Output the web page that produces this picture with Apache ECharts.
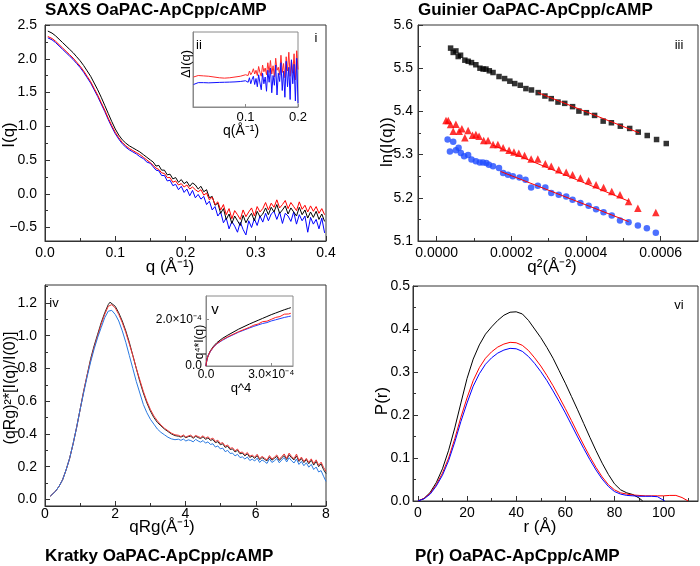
<!DOCTYPE html>
<html><head><meta charset="utf-8">
<script src="https://cdn.jsdelivr.net/npm/echarts@6/dist/echarts.min.js"></script>
<style>html,body{margin:0;padding:0;background:#fff}#c{width:700px;height:566px}</style>
</head><body><div id="c"></div>
<script>
// ---------- Panel i : SAXS ----------
const saxsQ = [0.004,0.01,0.015,0.02,0.025,0.03,0.035,0.04,0.045,0.05,0.055,0.06,0.065,0.07,0.075,0.08,0.085,0.09,0.095,0.1,0.105,0.11,0.115,0.12,0.125,0.13,0.135,0.14,0.145,0.15,
 0.154,0.158,0.162,0.166,0.170,0.174,0.178,0.182,0.186,0.190,0.194,0.198,0.202,0.206,0.210,0.214,0.218,0.222,0.226,0.230,
 0.234,0.238,0.242,0.246,0.250,0.254,0.258,0.262,0.266,0.270,0.274,0.278,0.282,0.286,0.290,0.294,0.298,0.302,0.306,0.310,
 0.314,0.318,0.322,0.326,0.330,0.334,0.338,0.342,0.346,0.350,0.354,0.358,0.362,0.366,0.370,0.374,0.378,0.382,0.386,0.390,0.394,0.398];
const saxsBlack = [2.41,2.38,2.34,2.29,2.24,2.19,2.14,2.09,2.03,1.97,1.90,1.82,1.74,1.64,1.54,1.43,1.31,1.19,1.07,0.96,0.87,0.80,0.75,0.71,0.68,0.65,0.62,0.58,0.54,0.50,
 0.47,0.41,0.42,0.35,0.35,0.28,0.29,0.22,0.24,0.17,0.21,0.15,0.18,0.11,0.16,0.13,0.07,0.11,0.03,0.06,
 -0.06,-0.04,-0.17,-0.14,-0.29,-0.22,-0.38,-0.30,-0.44,-0.33,-0.40,-0.47,-0.32,-0.43,-0.35,-0.29,-0.40,-0.26,-0.34,-0.30,
 -0.21,-0.31,-0.20,-0.27,-0.16,-0.29,-0.24,-0.18,-0.30,-0.21,-0.27,-0.33,-0.20,-0.31,-0.24,-0.36,-0.27,-0.35,-0.26,-0.38,-0.30,-0.41];
const saxsRed = [2.33,2.30,2.26,2.21,2.16,2.11,2.06,2.01,1.95,1.89,1.82,1.74,1.66,1.56,1.46,1.35,1.24,1.12,1.01,0.91,0.83,0.76,0.71,0.67,0.64,0.61,0.58,0.54,0.50,0.46,
 0.42,0.38,0.36,0.31,0.30,0.24,0.24,0.17,0.19,0.13,0.15,0.10,0.13,0.07,0.10,0.06,0.03,0.06,-0.02,0.01,
 -0.09,-0.05,-0.16,-0.12,-0.24,-0.16,-0.31,-0.22,-0.37,-0.25,-0.31,-0.38,-0.24,-0.34,-0.27,-0.21,-0.33,-0.19,-0.27,-0.22,
 -0.13,-0.24,-0.14,-0.20,-0.09,-0.21,-0.16,-0.10,-0.22,-0.13,-0.19,-0.25,-0.12,-0.23,-0.17,-0.27,-0.18,-0.26,-0.19,-0.29,-0.22,-0.31];
const saxsBlue = [2.31,2.28,2.24,2.19,2.14,2.09,2.04,1.99,1.93,1.87,1.80,1.72,1.64,1.54,1.44,1.33,1.22,1.10,0.99,0.89,0.81,0.74,0.69,0.65,0.62,0.59,0.55,0.52,0.47,0.45,
 0.40,0.35,0.34,0.27,0.27,0.19,0.20,0.12,0.14,0.06,0.11,0.02,0.07,-0.03,0.05,-0.06,-0.01,-0.08,-0.04,-0.16,
 -0.11,-0.24,-0.19,-0.33,-0.27,-0.43,-0.36,-0.52,-0.41,-0.48,-0.57,-0.42,-0.53,-0.61,-0.40,-0.50,-0.37,-0.47,-0.33,-0.42,
 -0.29,-0.40,-0.30,-0.26,-0.38,-0.27,-0.44,-0.29,-0.33,-0.41,-0.27,-0.45,-0.31,-0.40,-0.33,-0.57,-0.35,-0.45,-0.38,-0.52,-0.36,-0.58];
const saxsXTicks = [0,0.1,0.2,0.3,0.4], saxsXLabels = ["0.0","0.1","0.2","0.3","0.4"], saxsXMinor = [0.05,0.15,0.25,0.35];
const saxsYTicks = [-0.5,0,0.5,1,1.5,2,2.5], saxsYLabels = ["\u22120.5","0.0","0.5","1.0","1.5","2.0","2.5"], saxsYMinor = [-0.25,0.25,0.75,1.25,1.75,2.25];

// ---------- Inset ii : difference ----------
const diffQ = [0.001,0.01,0.02,0.03,0.04,0.05,0.06,0.07,0.08,0.09,0.1,
 0.1025,0.105,0.1075,0.11,0.1125,0.115,0.1175,0.12,0.1225,0.125,0.1275,0.13,0.1325,0.135,0.1375,0.14,0.1425,0.145,0.1475,0.15,
 0.1525,0.155,0.1575,0.16,0.1625,0.165,0.1675,0.17,0.1725,0.175,0.1775,0.18,0.1825,0.185,0.1875,0.19,0.1925,0.195,0.1975,0.2];
const diffRed = [0.40,0.42,0.415,0.41,0.40,0.39,0.385,0.39,0.40,0.41,0.43,
 0.45,0.42,0.48,0.43,0.46,0.51,0.44,0.49,0.42,0.54,0.46,0.41,0.56,0.47,0.52,0.43,0.59,0.46,0.62,0.44,
 0.55,0.40,0.65,0.49,0.53,0.43,0.69,0.46,0.58,0.39,0.67,0.48,0.73,0.41,0.62,0.45,0.71,0.36,0.75,0.50];
const diffBlue = [0.30,0.325,0.325,0.322,0.325,0.328,0.33,0.332,0.335,0.34,0.35,
 0.36,0.33,0.39,0.31,0.37,0.41,0.30,0.38,0.27,0.43,0.32,0.23,0.45,0.31,0.40,0.21,0.49,0.33,0.52,0.19,
 0.42,0.29,0.56,0.16,0.45,0.34,0.59,0.22,0.48,0.13,0.61,0.27,0.53,0.10,0.63,0.31,0.57,0.08,0.65,0.05];
const diffXTicks = [0.1,0.2], diffXLabels = ["0.1","0.2"];

// ---------- Panel iii : Guinier ----------
const guinBlackQ2 = [0.0000373,0.0000443,0.0000515,0.0000577,0.000064,0.0000755,0.0000844,0.0000933,0.000105,0.000116,0.0001244,0.000132,0.000141,0.000151,0.000167,0.000182,0.000196,0.000209,0.000224,0.000239,0.000254,0.000272,0.00029,0.000307,0.000325,0.000343,0.000364,0.000381,0.000401,0.000423,0.000446,0.000468,0.000492,0.000517,0.00054,0.000564,0.000589,0.000615];
const guinBlackLn = [5.5465,5.5365,5.540,5.527,5.530,5.5186,5.516,5.513,5.508,5.500,5.498,5.498,5.494,5.490,5.4807,5.476,5.470,5.4644,5.4605,5.4528,5.4496,5.4435,5.4356,5.4295,5.4216,5.4186,5.411,5.4007,5.397,5.3907,5.3775,5.3737,5.3658,5.3605,5.352,5.3442,5.3349,5.3256];
const guinRedQ2 = [0.000025,0.000031,0.0000373,0.0000443,0.0000515,0.0000603,0.0000675,0.0000755,0.0000843,0.000096,0.000105,0.0001136,0.000126,0.0001376,0.000151,0.000164,0.000178,0.000194,0.000207,0.00022,0.0002355,0.000253,0.000271,0.000291,0.000307,0.000327,0.000347,0.000364,0.000385,0.000407,0.000427,0.000447,0.000469,0.000491,0.000514,0.000539,0.000587];
const guinRedLn = [5.379,5.379,5.3698,5.354,5.370,5.354,5.3598,5.3388,5.3558,5.345,5.3465,5.3426,5.3326,5.3326,5.3233,5.3233,5.3156,5.310,5.3063,5.3030,5.2977,5.290,5.290,5.279,5.2728,5.265,5.2589,5.2535,5.2458,5.2395,5.2302,5.224,5.2147,5.207,5.1914,5.176,5.1658];
const guinBlueQ2 = [0.0000293,0.0000355,0.0000443,0.0000515,0.0000587,0.0000648,0.0000736,0.0000843,0.0000933,0.000105,0.0001155,0.000124,0.000133,0.00014,0.000151,0.000167,0.000178,0.000191,0.000204,0.000222,0.000238,0.000253,0.000271,0.000291,0.000307,0.000327,0.000347,0.000364,0.000385,0.000407,0.000427,0.000447,0.000469,0.000491,0.000514,0.000539,0.000563,0.000587];
const guinBlueLn = [5.335,5.307,5.3295,5.310,5.3156,5.3039,5.296,5.2993,5.2884,5.2844,5.282,5.282,5.2807,5.2767,5.2728,5.269,5.2574,5.2535,5.2496,5.2472,5.2419,5.224,5.2279,5.224,5.211,5.207,5.2031,5.1953,5.1877,5.1814,5.1737,5.1667,5.1588,5.1472,5.1435,5.1356,5.1295,5.1193];
const fitBlackQ2 = [0.000271,0.000542], fitBlackLn = [5.4435,5.3505];
const fitRedQ2 = [0.00015,0.000515], fitRedLn = [5.322,5.192];
const fitBlueQ2 = [0.000171,0.000514], fitBlueLn = [5.261,5.145];
const guinXTicks = [0,0.0002,0.0004,0.0006], guinXLabels = ["0.0000","0.0002","0.0004","0.0006"], guinXMinor = [0.0001,0.0003,0.0005];
const guinYTicks = [5.1,5.2,5.3,5.4,5.5,5.6], guinYLabels = ["5.1","5.2","5.3","5.4","5.5","5.6"], guinYMinor = [5.15,5.25,5.35,5.45,5.55];

// ---------- Panel iv : Kratky ----------
const kratX = [0.15,0.2,0.3,0.4,0.5,0.6,0.7,0.8,0.9,1.0,1.1,1.2,1.3,1.4,1.5,1.6,1.7,1.8,1.85,1.9,2.0,2.1,2.2,2.3,2.4,2.5,2.6,2.7,2.8,2.9,3.0,3.1,3.2,3.3,3.4,3.5,3.6,3.7,
 3.80,3.87,3.94,4.01,4.08,4.15,4.22,4.29,4.36,4.43,4.50,4.57,4.64,4.71,4.78,4.85,4.92,4.99,5.06,5.13,
 5.20,5.27,5.34,5.41,5.48,5.55,5.62,5.69,5.76,5.83,5.90,5.97,6.04,6.11,6.18,6.25,6.32,6.39,6.46,6.53,
 6.60,6.67,6.74,6.81,6.88,6.95,7.02,7.09,7.16,7.23,7.30,7.37,7.44,7.51,7.58,7.65,7.72,7.79,7.86,7.93,8.00];
const kratBlack = [0.02,0.03,0.05,0.08,0.12,0.18,0.25,0.34,0.44,0.55,0.66,0.76,0.86,0.94,1.01,1.08,1.14,1.19,1.205,1.20,1.18,1.14,1.09,1.03,0.96,0.88,0.80,0.72,0.65,0.59,0.54,0.50,0.47,0.45,0.43,0.415,0.40,0.39,
 0.386,0.381,0.388,0.377,0.384,0.386,0.374,0.386,0.378,0.372,0.383,0.367,0.376,0.361,0.366,0.347,0.353,0.334,0.34,0.318,
 0.325,0.305,0.309,0.29,0.3,0.279,0.283,0.266,0.279,0.257,0.264,0.251,0.268,0.243,0.256,0.245,0.236,0.26,0.24,0.251,
 0.263,0.238,0.255,0.268,0.244,0.273,0.254,0.242,0.266,0.232,0.25,0.225,0.244,0.218,0.24,0.21,0.233,0.2,0.218,0.182,0.158];
const kratRed = [0.02,0.03,0.05,0.08,0.12,0.18,0.25,0.34,0.44,0.55,0.66,0.76,0.85,0.93,1.00,1.07,1.13,1.18,1.19,1.19,1.17,1.13,1.08,1.02,0.95,0.88,0.80,0.73,0.66,0.60,0.55,0.51,0.48,0.455,0.435,0.42,0.405,0.395,
 0.392,0.384,0.394,0.381,0.388,0.393,0.379,0.391,0.384,0.378,0.389,0.374,0.383,0.368,0.375,0.354,0.362,0.342,0.347,0.325,
 0.333,0.312,0.316,0.297,0.308,0.286,0.29,0.273,0.287,0.264,0.271,0.258,0.276,0.249,0.263,0.252,0.241,0.268,0.247,0.258,
 0.272,0.245,0.262,0.278,0.251,0.283,0.262,0.249,0.277,0.238,0.259,0.232,0.251,0.226,0.248,0.219,0.242,0.209,0.228,0.196,0.172];
const kratBlue = [0.02,0.03,0.05,0.08,0.12,0.18,0.25,0.34,0.44,0.55,0.65,0.75,0.84,0.92,0.99,1.05,1.11,1.15,1.16,1.155,1.13,1.09,1.03,0.96,0.88,0.80,0.72,0.65,0.58,0.53,0.49,0.46,0.43,0.41,0.395,0.38,0.37,0.365,
 0.368,0.361,0.369,0.357,0.364,0.36,0.352,0.367,0.357,0.35,0.36,0.344,0.352,0.336,0.34,0.32,0.327,0.309,0.314,0.292,
 0.3,0.281,0.283,0.266,0.276,0.256,0.26,0.247,0.259,0.238,0.246,0.235,0.252,0.226,0.241,0.232,0.22,0.248,0.226,0.236,
 0.25,0.224,0.241,0.256,0.229,0.255,0.236,0.223,0.247,0.214,0.232,0.206,0.224,0.197,0.214,0.183,0.198,0.168,0.176,0.142,0.11];
const kratXTicks = [0,2,4,6,8], kratXLabels = ["0","2","4","6","8"], kratXMinor = [1,3,5,7];
const kratYTicks = [0,0.2,0.4,0.6,0.8,1.0,1.2], kratYLabels = ["0.0","0.2","0.4","0.6","0.8","1.0","1.2"], kratYMinor = [0.1,0.3,0.5,0.7,0.9,1.1,1.3];

// ---------- Inset v : Porod ----------
const porodX = [0,0.000002,0.000005,0.00001,0.00002,0.000035,0.00005,0.000075,0.0001,0.00015,0.0002,0.00022,0.00024,0.00026,0.00028,0.0003,0.00032,0.00034,0.00036,0.00038,0.00039];
const porodBlack = [0,0.000015,0.00003,0.000045,0.000065,0.000085,0.0001,0.000118,0.000132,0.000158,0.00018,0.000188,0.000196,0.000204,0.000212,0.00022,0.000227,0.000234,0.000241,0.000247,0.00025];
const porodRed = [0,0.000015,0.00003,0.000044,0.000063,0.000082,0.000096,0.000112,0.000125,0.000147,0.000166,0.000175,0.00018,0.00019,0.000192,0.0002,0.000208,0.000212,0.000222,0.000223,0.000226];
const porodBlue = [0,0.000015,0.00003,0.000044,0.000062,0.000081,0.000095,0.00011,0.000123,0.000145,0.000163,0.00017,0.000176,0.000182,0.000186,0.000193,0.000198,0.000203,0.000208,0.000212,0.000214];
const porodXTicks = [0,0.0003], porodXLabels = ["0.0","3.0\u00d710\u207b\u2074"];
const porodYTicks = [0,0.0002], porodYLabels = ["0.0","2.0\u00d710\u207b\u2074"];

// ---------- Panel vi : P(r) ----------
const prBlackR = [0,2.5,5,7.5,10,12.5,15,17.5,20,22.5,25,27.5,30,32.5,35,37.5,40,42.5,45,47.5,50,52.5,55,57.5,60,62.5,65,67.5,70,72.5,75,77.5,80,82.5,85,87.5,90,91.5];
const prBlack = [0,0.006,0.02,0.043,0.075,0.118,0.17,0.228,0.285,0.33,0.363,0.388,0.405,0.42,0.432,0.439,0.44,0.435,0.42,0.40,0.38,0.357,0.332,0.303,0.274,0.243,0.212,0.18,0.148,0.117,0.088,0.062,0.04,0.026,0.019,0.015,0.007,0];
const prRedR = [0,2.5,5,7.5,10,12.5,15,17.5,20,22.5,25,27.5,30,32.5,35,37.5,40,42.5,45,47.5,50,52.5,55,57.5,60,62.5,65,67.5,70,72.5,75,77.5,80,82.5,85,87.5,90,92.5,95,97.5,100,102.5,105,107.5,110];
const prRed = [0,0.006,0.018,0.038,0.065,0.1,0.145,0.195,0.24,0.28,0.31,0.332,0.347,0.358,0.365,0.369,0.368,0.362,0.35,0.333,0.314,0.292,0.268,0.242,0.215,0.187,0.158,0.13,0.103,0.078,0.056,0.038,0.026,0.019,0.016,0.014,0.013,0.012,0.012,0.012,0.012,0.013,0.013,0.008,0];
const prBlueR = [0,2.5,5,7.5,10,12.5,15,17.5,20,22.5,25,27.5,30,32.5,35,37.5,40,42.5,45,47.5,50,52.5,55,57.5,60,62.5,65,67.5,70,72.5,75,77.5,80,82.5,85,87.5,90,92.5,95,97.5,99,100.5];
const prBlue = [0,0.005,0.016,0.035,0.06,0.094,0.137,0.185,0.228,0.267,0.296,0.318,0.333,0.344,0.351,0.355,0.354,0.348,0.336,0.32,0.301,0.28,0.256,0.231,0.205,0.177,0.149,0.122,0.096,0.072,0.051,0.034,0.022,0.016,0.013,0.012,0.011,0.011,0.011,0.01,0.005,0];
const prXTicks = [0,20,40,60,80,100], prXLabels = ["0","20","40","60","80","100"], prXMinor = [10,30,50,70,90,110];
const prYTicks = [0,0.1,0.2,0.3,0.4,0.5], prYLabels = ["0.0","0.1","0.2","0.3","0.4","0.5"], prYMinor = [0.05,0.15,0.25,0.35,0.45];

// ---------- build ----------
const FONT = "'Liberation Sans', Arial, sans-serif";
const zip = (xs, ys) => xs.map((x, i) => [x, ys[i]]);
function fmtFrom(vals, labels) {
  return function (v) { let bi = 0, bd = Infinity; vals.forEach((t, i) => { const d = Math.abs(t - v); if (d < bd) { bd = d; bi = i; } }); return labels[bi]; };
}
const grids = [], xAxes = [], yAxes = [];
function mainAxis(dim, gi, s, col) {
  return {
    type: 'value', gridIndex: gi, min: s.min, max: s.max, position: dim === 'x' ? 'bottom' : 'left',
    axisLine: { show: true, onZero: false, lineStyle: { color: col, width: 1 } },
    splitLine: { show: false },
    axisTick: s.ticks ? { show: true, inside: true, length: s.tickLen || 5, customValues: s.ticks, lineStyle: { color: col, width: 1 } } : { show: false },
    axisLabel: s.labels ? { show: true, customValues: s.ticks, formatter: fmtFrom(s.ticks, s.labels), fontSize: s.fs || 14, fontFamily: FONT, color: '#000', margin: s.margin } : { show: false }
  };
}
function minorAxis(dim, gi, s, col) {
  return {
    type: 'value', gridIndex: gi, min: s.min, max: s.max, position: dim === 'x' ? 'bottom' : 'left',
    axisLine: { show: false, onZero: false }, splitLine: { show: false }, axisLabel: { show: false },
    axisTick: { show: true, inside: true, length: 3, customValues: s.minor, lineStyle: { color: col, width: 1 } }
  };
}
function panel(rect, xs, ys, col, bg) {
  const gi = grids.length;
  grids.push({ left: rect[0], top: rect[1], width: rect[2], height: rect[3], show: true, borderColor: col, borderWidth: 1, backgroundColor: bg || 'transparent' });
  const xi = xAxes.length, yi = yAxes.length;
  xAxes.push(mainAxis('x', gi, xs, col));
  yAxes.push(mainAxis('y', gi, ys, col));
  if (xs.minor) xAxes.push(minorAxis('x', gi, xs, col));
  if (ys.minor) yAxes.push(minorAxis('y', gi, ys, col));
  return { xi, yi };
}
const AX = '#333', INS = '#8a8a8a';
const pI = panel([45, 25, 281, 216], { min: 0, max: 0.4, ticks: saxsXTicks, labels: saxsXLabels, minor: saxsXMinor, margin: 5 },
  { min: -0.7, max: 2.5, ticks: saxsYTicks, labels: saxsYLabels, minor: saxsYMinor, margin: 8 }, AX);
const pII = panel([193, 32, 105, 75], { min: 0, max: 0.2, ticks: diffXTicks, labels: diffXLabels, fs: 13, margin: 4, tickLen: 3 },
  { min: 0, max: 1 }, INS, '#fff');
const pIII = panel([418, 25, 280, 216], { min: -0.00005, max: 0.0007, ticks: guinXTicks, labels: guinXLabels, minor: guinXMinor, margin: 5 },
  { min: 5.1, max: 5.6, ticks: guinYTicks, labels: guinYLabels, minor: guinYMinor, margin: 5 }, AX);
const pIV = panel([45, 285, 281, 221], { min: 0, max: 8, ticks: kratXTicks, labels: kratXLabels, minor: kratXMinor, margin: 1 },
  { min: -0.04, max: 1.31, ticks: kratYTicks, labels: kratYLabels, minor: kratYMinor, margin: 8 }, AX);
const pV = panel([206, 296, 87, 70], { min: 0, max: 0.0004, ticks: porodXTicks, labels: porodXLabels, fs: 12, margin: 3, tickLen: 3 },
  { min: 0, max: 0.0003, ticks: porodYTicks, labels: porodYLabels, fs: 12, margin: 4, tickLen: 3 }, INS, '#fff');
const pVI = panel([413, 286, 285, 215], { min: -2, max: 114, ticks: prXTicks, labels: prXLabels, minor: prXMinor, margin: 5 },
  { min: 0, max: 0.5, ticks: prYTicks, labels: prYLabels, minor: prYMinor, margin: 3 }, AX);

function line(p, xs, ys, color, z, w) {
  return { type: 'line', xAxisIndex: p.xi, yAxisIndex: p.yi, data: zip(xs, ys), showSymbol: false, symbol: 'none',
    lineStyle: { color, width: w || 1 }, itemStyle: { color }, z: z || 2, silent: true, animation: false, clip: true };
}
function scat(p, xs, ys, color, symbol, size) {
  return { type: 'scatter', xAxisIndex: p.xi, yAxisIndex: p.yi, data: zip(xs, ys), symbol, symbolSize: size,
    itemStyle: { color }, z: 3, silent: true, animation: false };
}
const series = [
  line(pI, saxsQ, saxsBlue, '#0000ff', 2), line(pI, saxsQ, saxsBlack, '#000000', 3), line(pI, saxsQ, saxsRed, '#ff0000', 4),
  line(pII, diffQ, diffRed, '#ff2a2a', 5), line(pII, diffQ, diffBlue, '#1010ff', 6),
  scat(pIII, guinBlackQ2, guinBlackLn, '#000000', 'rect', 5.5),
  scat(pIII, guinRedQ2, guinRedLn, '#ff0000', 'triangle', 7.5),
  scat(pIII, guinBlueQ2, guinBlueLn, '#1f4cff', 'circle', 6.5),
  line(pIII, fitBlackQ2, fitBlackLn, '#ff0000', 5), line(pIII, fitRedQ2, fitRedLn, '#ff0000', 5), line(pIII, fitBlueQ2, fitBlueLn, '#ff0000', 5),
  line(pIV, kratX, kratBlack, '#222222', 2), line(pIV, kratX, kratRed, '#ee3535', 3), line(pIV, kratX, kratBlue, '#2a7ae2', 4),
  line(pV, porodX, porodBlack, '#000000', 5), line(pV, porodX, porodRed, '#ff2020', 6), line(pV, porodX, porodBlue, '#2040ff', 5),
  line(pVI, prBlackR, prBlack, '#000000', 2), line(pVI, prRedR, prRed, '#ff0000', 3), line(pVI, prBlueR, prBlue, '#0000ff', 4)
];

function txt(x, y, text, size, o) {
  o = o || {};
  return { type: 'text', x, y, rotation: o.rot || 0, silent: true, z: 100,
    style: { text, font: (o.bold ? 'bold ' : '') + size + 'px ' + FONT, fill: '#000',
      align: o.align || 'center', verticalAlign: 'middle', textAlign: o.align || 'center', textVerticalAlign: 'middle' } };
}
const R = Math.PI / 2;
const graphics = [
  txt(45, 10, 'SAXS OaPAC-ApCpp/cAMP', 17, { bold: true, align: 'left' }),
  txt(418, 10, 'Guinier OaPAC-ApCpp/cAMP', 17, { bold: true, align: 'left' }),
  txt(45, 556, 'Kratky OaPAC-ApCpp/cAMP', 17, { bold: true, align: 'left' }),
  txt(415, 556, 'P(r) OaPAC-ApCpp/cAMP', 17, { bold: true, align: 'left' }),
  txt(170, 267, 'q (\u00c5\u207b\u00b9)', 17),
  txt(9, 135, 'I(q)', 17, { rot: R }),
  txt(552, 267, 'q\u00b2(\u00c5\u207b\u00b2)', 17),
  txt(387, 142, 'ln(I(q))', 17, { rot: R }),
  txt(162, 527, 'qRg(\u00c5\u207b\u00b9)', 17),
  txt(11, 388, '(qRg)\u00b2*[I(q)/I(0)]', 16, { rot: R }),
  txt(540, 527, 'r (\u00c5)', 17),
  txt(382, 401, 'P(r)', 17, { rot: R }),
  txt(186, 64, '\u0394I(q)', 13, { rot: R }),
  txt(241, 131, 'q(\u00c5\u207b\u00b9)', 14),
  txt(200, 342, 'q\u2074*I(q)', 12, { rot: R }),
  txt(241, 388, 'q^4', 13),
  txt(316, 38, 'i', 13), txt(199, 45, 'ii', 13), txt(679, 45, 'iii', 13),
  txt(54, 303, 'iv', 13), txt(215, 310, 'v', 15), txt(679, 305, 'vi', 13)
];

const chart = echarts.init(document.getElementById('c'), null, { renderer: 'canvas' });
chart.setOption({
  animation: false, backgroundColor: '#fff',
  textStyle: { fontFamily: FONT },
  grid: grids, xAxis: xAxes, yAxis: yAxes, series, graphic: graphics
});
</script></body></html>
